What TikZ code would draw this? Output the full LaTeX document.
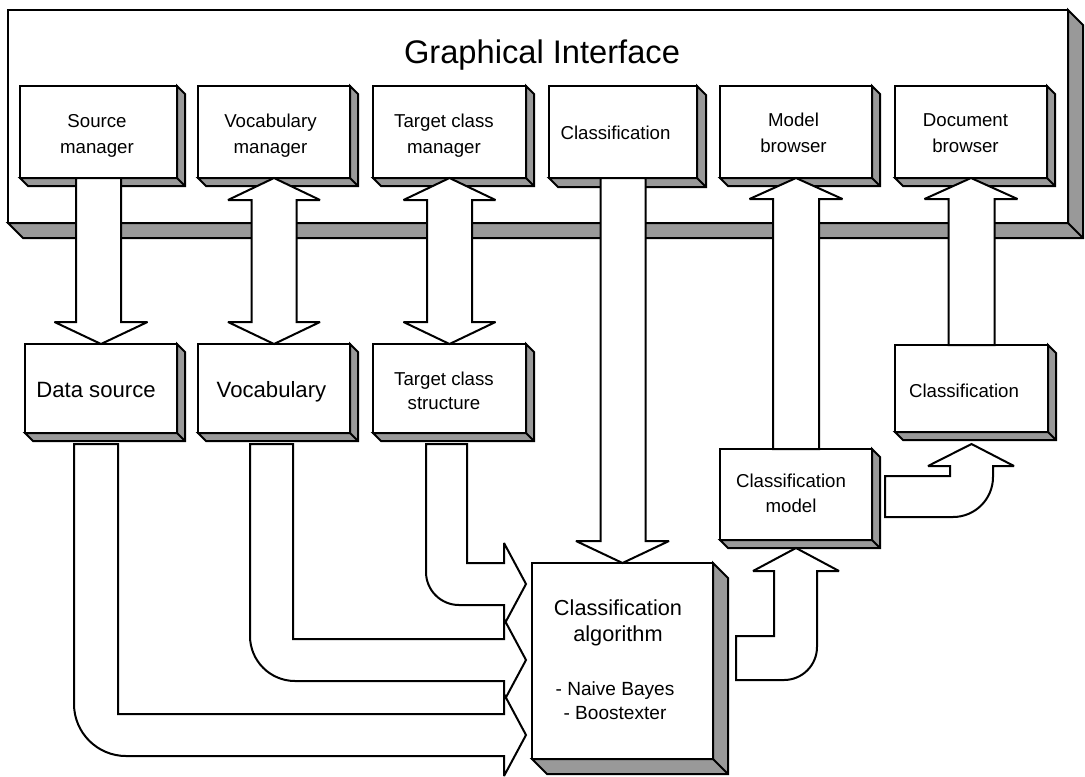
\documentclass[tikz,border=0pt]{standalone}
\usepackage{fontspec}
\setmainfont{Liberation Sans}
\usetikzlibrary{calc}
\definecolor{shgray}{RGB}{153,153,153}
\tikzset{
  ln/.style={line width=1.5pt, line join=miter, miter limit=3},
  boxf/.style={ln, draw=black, fill=white, rectangle, inner sep=0pt, outer sep=0pt},
  shd/.style={ln, draw=black, fill=shgray},
  blk/.style={ln, draw=black, fill=white},
  lbl/.style={anchor=base, align=center, inner sep=0pt, font=\fontsize{14}{19.5}\selectfont},
  lbig/.style={anchor=base, align=center, inner sep=0pt, font=\fontsize{16.6}{19.5}\selectfont},
  lalg/.style={anchor=base, align=center, inner sep=0pt, font=\fontsize{16.3}{19.3}\selectfont},
  lsml/.style={anchor=base, align=center, inner sep=0pt, font=\fontsize{14.3}{17.5}\selectfont},
  ttl/.style={anchor=base, inner sep=0pt, font=\fontsize{24.5}{29}\selectfont},
}
% 3D box: name, x1, y1, x2, y2, depth
\newcommand\tdbox[6]{%
  \node[boxf, minimum width={(#4-#2)*0.75pt}, minimum height={(#5-#3)*0.75pt}] (#1) at ({(#2+#4)/2},{(#3+#5)/2}) {};
  \draw[shd] (#1.north east) -- ++(#6,#6) -- ($(#1.south east)+(#6,#6)$) -- ($(#1.south west)+(#6,#6)$) -- (#1.south west) -- (#1.south east) -- cycle;
  \draw[ln] (#1.south east) -- ++(#6,#6);
}
% block arrow down from #1 to #2
\newcommand\arrdown[2]{%
  \draw[blk] ($(#1.south)+(-22.5,0)$) -- ($(#1.south |- #2.north)+(-22.5,-22)$) -- ($(#2.north)+(-46.5,-22)$) -- (#2.north) -- ($(#2.north)+(46.5,-22)$) -- ($(#1.south |- #2.north)+(22.5,-22)$) -- ($(#1.south)+(22.5,0)$) -- cycle;}
% block arrow up from #1 to #2
\newcommand\arrup[2]{%
  \draw[blk] ($(#1.north)+(-23,0)$) -- ($(#1.north |- #2.south)+(-23,21)$) -- ($(#2.south)+(-46.5,21)$) -- (#2.south) -- ($(#2.south)+(46.5,21)$) -- ($(#1.north |- #2.south)+(23,21)$) -- ($(#1.north)+(23,0)$) -- cycle;}
% double block arrow between #1 (above) and #2 (below)
\newcommand\arrboth[2]{%
  \draw[blk] (#1.south) -- ($(#1.south)+(46,22)$) -- ($(#1.south)+(22.5,22)$) -- ($(#1.south |- #2.north)+(22.5,-22)$) -- ($(#2.north)+(46,-22)$) -- (#2.north) -- ($(#2.north)+(-46,-22)$) -- ($(#1.south |- #2.north)+(-22.5,-22)$) -- ($(#1.south)+(-22.5,22)$) -- ($(#1.south)+(-46,22)$) -- cycle;}
% bent arrow from below node #1 to tip #2, shaft offsets #3 #4, radius #5
\newcommand\bentin[5]{%
  \draw[blk] ($(#1.south)+(#3,11)$) -- ($(#1.south)+(#4,11)$) -- ($(#1.south |- #2)+(#4,-21)$) -- ($(#2)+(-22,-21)$) -- ($(#2)+(-22,-41)$) -- (#2) -- ($(#2)+(-22,41)$) -- ($(#2)+(-22,21)$) -- ($(#1.south |- #2)+({#3+#5},21)$) .. controls ($(#1.south |- #2)+({#3+0.448*#5},21)$) and ($(#1.south |- #2)+(#3,{21-0.448*#5})$) .. ($(#1.south |- #2)+(#3,{21-#5})$) -- cycle;}

\begin{document}
\begin{tikzpicture}[x=0.75pt,y=-0.75pt]
\useasboundingbox (0,0) rectangle (1085,776);

% frame
\tdbox{gui}{8}{10}{1068}{223}{15}
\node[ttl] (title) at (542,63) {Graphical Interface};

% top row
\tdbox{sm}{20}{86}{177}{178}{8}
\tdbox{vm}{198}{86}{350}{178}{8}
\tdbox{tm}{373}{86}{526}{178}{8}
\tdbox{cl}{549}{86}{697}{178}{9}
\tdbox{mb}{720}{86}{872}{178}{8}
\tdbox{db}{895}{86}{1047}{178}{8}

% second row
\tdbox{ds}{25}{344}{177}{433}{8}
\tdbox{vo}{198}{344}{350}{433}{8}
\tdbox{ts}{373}{344}{526}{433}{8}
\tdbox{cr}{895}{345}{1048}{432}{8}
\tdbox{cm}{720}{449}{872}{540}{8}
\tdbox{ca}{532}{563}{713}{759}{15}

% texts (base anchor = baseline of last line)
\node[lbl] (smT) at (97,153) {Source\\manager};
\node[lbl] (vmT) at (270.5,153) {Vocabulary\\manager};
\node[lbl] (tmT) at (444,153) {Target class\\manager};
\node[lbl] (clT) at (615.5,139) {Classification};
\node[lbl] (mbT) at (793.5,152.5) {Model\\browser};
\node[lbl] (dbT) at (965.5,152.5) {Document\\browser};
\node[lbig] (dsT) at (96,397) {Data source};
\node[lbig] (voT) at (271.5,397) {Vocabulary};
\node[lbl, font=\fontsize{14}{18}\selectfont] (tsT) at (444,409) {Target class\\structure};
\node[lbl] (crT) at (964,397) {Classification};
\node[lbl, font=\fontsize{14}{18.75}\selectfont] (cmT) at (791,512) {Classification\\model};
\node[lalg] (caT) at (618,641) {Classification\\algorithm};
\node[lsml] (caL) at (615,719) {- Naive Bayes\\- Boostexter};

% vertical arrows
\arrdown{sm}{ds}
\arrboth{vm}{vo}
\arrboth{tm}{ts}
\arrdown{cl}{ca}
\arrup{cm}{mb}
\arrup{cr}{db}

% bent arrows into the algorithm
\coordinate (t1) at ($(ca.west)+(-6,-77)$);
\coordinate (t2) at ($(ca.west)+(-6,-1)$);
\coordinate (t3) at ($(ca.west)+(-6,74)$);
\bentin{ts}{t1}{-23.5}{17.5}{33}
\bentin{vo}{t2}{-24}{19}{45}
\bentin{ds}{t3}{-27}{17}{52}

% algorithm -> model
\draw[blk] ($(ca.east)+(23,-25)$) -- ($(cm.south |- ca.east)+(-22,-25)$) -- ($(cm.south)+(-22,31)$) -- ($(cm.south)+(-43,31)$) -- ($(cm.south)+(0,8)$) -- ($(cm.south)+(43,31)$) -- ($(cm.south)+(21,31)$) -- ($(cm.south |- ca.east)+(21,{19-33})$) .. controls ($(cm.south |- ca.east)+(21,{19-0.448*33})$) and ($(cm.south |- ca.east)+({21-0.448*33},19)$) .. ($(cm.south |- ca.east)+({21-33},19)$) -- ($(ca.east)+(23,19)$) -- cycle;

% model -> classification
\draw[blk] ($(cm.east)+(13,-18.5)$) -- ($(cr.south |- cm.east)+(-21.5,-18.5)$) -- ($(cr.south)+(-21.5,34)$) -- ($(cr.south)+(-43.5,34)$) -- ($(cr.south)+(0,12)$) -- ($(cr.south)+(42.5,34)$) -- ($(cr.south)+(21.5,34)$) -- ($(cr.south |- cm.east)+(21.5,{22.5-40})$) .. controls ($(cr.south |- cm.east)+(21.5,{22.5-0.448*40})$) and ($(cr.south |- cm.east)+({21.5-0.448*40},22.5)$) .. ($(cr.south |- cm.east)+({21.5-40},22.5)$) -- ($(cm.east)+(13,22.5)$) -- cycle;
\end{tikzpicture}
\end{document}
